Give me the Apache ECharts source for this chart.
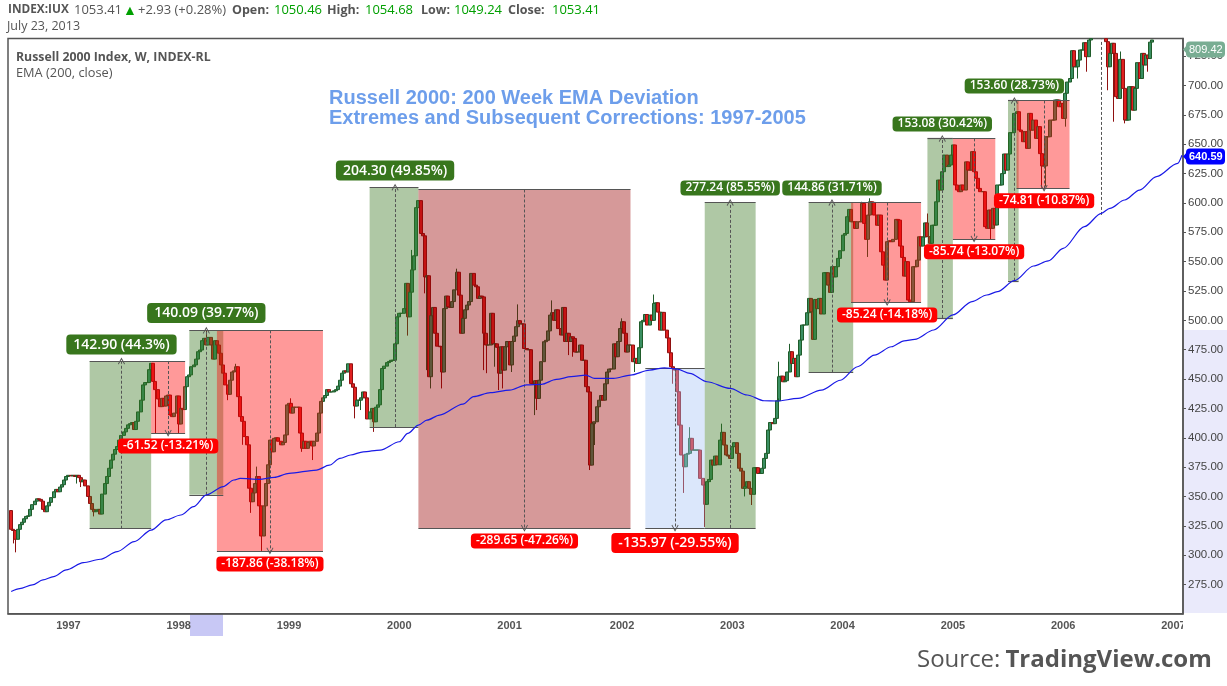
<!DOCTYPE html>
<html>
<head>
<meta charset="utf-8">
<title>Russell 2000 EMA Deviation</title>
<script src="https://cdn.jsdelivr.net/npm/echarts@6/dist/echarts.min.js"></script>
<style>
html, body { margin: 0; padding: 0; background: #fff; }
#chart { width: 1227px; height: 686px; }
</style>
</head>
<body>
<div id="chart"></div>
<script>
// weekly closes, week 1 onward (week 0 is an empty slot)
var firstOpen = 338;
var closes = [
    322,321,313.5,322,326,328,331,333,333.5,339,
    343,346,348,347.5,346,339,337,342,345,349,
    354,356,354,358,360,364,367,368,367.5,368,
    367,368,366,362.5,364,359,350,344,339,337,
    338,339,335,352,361,367,374,381,386,390,
    392.5,398,402,405,408,411,412,413,407,414,
    422,432,445,447,447,458,463.4,448,441,433,
    426.5,433.6,427,435.6,436.4,419.4,418,421,435.6,411.7,
    425,424,443.5,452,453.5,460.5,462,467,473.3,474.7,
    482.7,484.7,479,485.5,479,467,482.7,479,472,462,
    455,445,437,449,456,457,460.5,435,418,414,
    401,394,357,345.5,353,361,367,342,316.3,342,
    361,377,398,388,399.5,400,397,394,396,402.4,
    428,429.3,421,426,426,426,404,391,397,391,
    396,397,393,397,404,421,431,434,436,441,
    439,439,440,441,444,449,455,457,456,463,
    446,443,427,432,432,434,439,434,416,422,
    425,413.6,426,428,441,459,461,464,465,466,
    466,480,503,506,506,510,531.5,503,524,543,
    555,596,602,574,572,537,538,452,504,511,
    489,478,477.5,456,510,520.7,511.6,511,516,526,
    541,521.5,489,501.7,509,513,516,540,530,528.6,
    518.7,520.7,520,489,479,479,506,480,480,477,
    455,477.5,457.6,477.5,482,462,482,486.6,494.6,499.7,
    497,497,476,475,475,446.3,446,448.6,433.5,449,
    464.8,481.8,483,491,504.5,506.5,500,509,493,487.5,
    511,482,489,482,486,484.6,473,473,479,466,
    466,443.5,439,376.7,412,413.6,426.4,432,436,432,
    446,456,458.5,458.5,480,469,482,493,498.8,489,
    473,479,479,464.8,467.6,463.3,476.7,498.8,500,505,
    496,504.5,500,514.4,515,507,491.7,506.8,491.7,485,
    472.4,460.5,459,457.6,439.2,410.8,385.3,375.3,386,386.7,
    399.5,389.5,389.5,389.5,389.5,365.4,359.7,343.3,362.6,364.5,
    381,376.7,384.4,377,398,404.6,393.8,385.3,384.4,382.4,
    392.4,395.8,386.7,374,371.6,356.9,358.3,362.6,356.9,351.8,
    374.5,374.5,369.6,369.6,374,382.4,386.7,406.6,413,412,
    416.5,431.5,452,452.5,447.7,448.6,456,473.3,463.3,467.6,
    452,470.4,483.2,496,496,506.5,518.7,507.3,483.8,517.8,
    510,518.7,505.4,540.6,540.6,530,523.8,545.7,537,545.7,
    552.8,559.3,572.6,574,588.3,594.5,584,584,578.3,584,
    584,599.6,582.6,569,589.7,601,600.5,589.7,581,589.7,
    558.4,547,534.3,567,567.8,567,569,586,585.4,563.3,
    553.6,537.7,550,517.3,515.9,545.7,545.7,551.3,571.2,563.3,
    571,583,571.3,565.6,581,581,601,619.5,611,626.6,
    640.8,631,632.3,640.8,649.4,615.3,611,609.6,615.3,611,
    635,628,628,643.7,626.6,621,612.4,609.6,609.6,579.8,
    578.4,594,578.4,595.4,581.2,615.3,615.3,625,641.7,628,
    641.7,659.9,659.9,676.3,677.7,662.1,660.7,652.2,660.7,646.5,
    676.3,662,670.6,655,665,642,631.5,631.5,656.4,656.4,
    670.6,670.6,687.7,687.7,682,684.8,672,693.4,703,706,
    729.7,716,716,721.7,730.3,730.3,736.5,724.6,738.8,745,
    752,760,770,780,775,760,737.4,716,727.4,736,
    727.4,690.5,689,722.3,697.6,670.6,670.6,699,699,679,
    697.6,719.5,706,727.4,717.5,726,723,737,738.8
];

// long wicks only: [week, price]
var highWicks = [
    [93,491],[107,463],[117,375.4],[133,433.6],[190,560],[211,544],[240,513.6],[256,517],
    [289,501.7],[304,522],[321,409],[336,412],[363,464.8],[368,480],[402,601],[406,604],
    [433,591],[524,729]
];
var lowWicks = [
    [2,310],[3,302.4],[32,361],[34,358],[40,333],[69,404],[80,404],[103,432],[110,394],[114,336],
    [119,303.6],[123,381],[138,388],[143,381],[163,416.5],[166,423.6],[172,405],[188,487],[196,523],
    [197,457.6],[199,442],[204,442],[224,457.6],[225,455],[229,460.5],[231,440.6],[233,442],[237,456],
    [248,419.3],[249,423.6],[264,470.4],[266,469],[274,372.5],[276,393.8],[278,419],[295,456],
    [313,446],[318,353],[328,324],[331,362.6],[347,350],[350,342.7],[363,433.5],[405,554],
    [463,569],[487,613],[489,614],[498,665],[504,706],[508,711.8],[518,696],[521,669.2],[526,667.8],[537,711.8]
];

// EMA readings: [week, value]
var emaPoints = [
    [1,269],[5,271.5],[11,274.6],[16,278.9],[21,281.7],[27,287.4],[35,293.6],[43,296.5],[51,303],[59,311.5],
    [67,321.4],[74,330],[81,334.2],[87,341.3],[93,351.3],[101,358.4],[106,364],[109,365.4],[118,364.6],[125,366.3],
    [132,369.7],[145,372.5],[151,376.6],[156,382.4],[161,385.3],[167,388],[175,389.5],[184,396.6],[188,403.7],[193,410.8],
    [197,415],[203,419.3],[214,428.7],[219,435],[227,438.4],[236,440.6],[244,445],[251,445.5],[258,449.7],[265,452],
    [272,453.4],[276,450.6],[285,450.6],[293,453.4],[302,457.6],[309,459.6],[315,458.5],[321,454.8],[329,447.7],[340,442],
    [348,436.4],[356,431.5],[362,431.3],[372,433.5],[383,440.6],[392,449],[400,460.5],[408,470.4],[416,477.5],[422,482.6],
    [427,483.8],[436,491.8],[445,504.6],[454,516],[461,521.6],[466,524.4],[474,533.8],[483,546.3],[490,550.6],[497,561.3],
    [507,579.8],[515,591.2],[519,595.4],[526,602.5],[533,611],[541,622.4],[551,633.7],[553,640.6]
];

var weekCount = 554;
var yMin = 250, yMax = 740;
var yearTicks = ['1997-01-06','1998-01-05','1999-01-04','2000-01-03','2001-01-01','2002-01-07',
                 '2003-01-06','2004-01-05','2005-01-03','2006-01-02','2007-01-01'];

// [startWeek, endWeek, top, bottom, colour]
var GREEN = 'rgba(56,118,29,0.4)', RED = 'rgba(255,0,0,0.4)', DARKRED = 'rgba(153,0,0,0.4)', BLUE = 'rgba(164,194,244,0.4)';
var boxes = [
    [38,67,465.4,322.5,GREEN],
    [67,83,465.4,403.9,RED],
    [85,101,491.5,351.4,GREEN],
    [98,148,491.5,303.6,RED],
    [170,193,613.4,409.1,GREEN],
    [193,293,611.5,323,DARKRED],
    [300,328,459,323,BLUE],
    [328,352,600.4,323.2,GREEN],
    [377,398,600.4,455.5,GREEN],
    [397,430,600.4,515.2,RED],
    [433,445,655,502,GREEN],
    [445,465,655,569.3,RED],
    [471,476,687.3,533.7,GREEN],
    [475,500,687.3,612.5,RED]
];

// dashed measure line of each box: [week, from, to]
var measures = [
    [53,322.5,465.4],[75,465.4,403.9],[93,351.4,491.5],[123,491.5,303.6],[182,409.1,613.4],
    [243,611.5,323],[314,459,323],[340,323.2,600.4],[388,455.5,600.4],[414,600.4,515.2],
    [440,502,655],[455,655,569.3],[474,533.7,687.3],[488,687.3,612.5]
];

// [text, week, price, big?]
var gainTags = [
    ['142.90 (44.3%)',53,479.4,true],['140.09 (39.77%)',93,506.3,true],['204.30 (49.85%)',182,627.6,true],
    ['277.24 (85.55%)',340,612.7,false],['144.86 (31.71%)',388,612.7,false],
    ['153.08 (30.42%)',440,667.2,false],['153.60 (28.73%)',474,699.6,false]
];
var lossTags = [
    ['-61.52 (-13.21%)',75,393,false],['-187.86 (-38.18%)',123,292.5,false],['-289.65 (-47.26%)',243,312,false],
    ['-135.97 (-29.55%)',314,310.4,true],['-85.24 (-14.18%)',414,504.6,false],
    ['-85.74 (-13.07%)',455,558.5,false],['-74.81 (-10.87%)',488,601.9,false]
];

// header strip: [text, left, colour, weight, size]
var GREY = '#555', UP = '#00a000';
var headerBits = [
    ['INDEX:IUX',8,GREY,'bold',11.8],['1053.41',74,GREY,'normal',13],['▲',123,UP,'normal',14],
    ['+2.93 (+0.28%)',138,GREY,'normal',13],['Open:',232,GREY,'bold',12.5],['1050.46',274,UP,'normal',13],
    ['High:',327,GREY,'bold',12.5],['1054.68',365,UP,'normal',13],['Low:',421,GREY,'bold',12.5],
    ['1049.24',454,UP,'normal',13],['Close:',508,GREY,'bold',12.5],['1053.41',552,UP,'normal',13]
];

var SANS = '"Open Sans", sans-serif', ARIAL = '"Liberation Sans", Arial, sans-serif';
var CHEVRON = 'path://M0,0L5,8L4,8.8L0,2.4L-4,8.8L-5,8Z';

var categories = [];
for (var w = 0; w < weekCount; w++) {
    categories.push(new Date(Date.UTC(1996, 5, 24 + 7 * w)).toISOString().slice(0, 10));
}

function wickOf(list, week) {
    for (var k = 0; k < list.length; k++) {
        if (list[k][0] === week) return list[k][1];
    }
    return null;
}

// candlestick clip drops whole bars only, so bars leaving the top are cut here
var candles = ['-'];
closes.forEach(function (c, idx) {
    var week = idx + 1;
    var o = idx === 0 ? firstOpen : closes[idx - 1];
    if (Math.min(o, c) >= yMax) {
        candles.push('-');
        return;
    }
    var hi = wickOf(highWicks, week);
    var lo = wickOf(lowWicks, week);
    candles.push([
        Math.min(o, yMax),
        Math.min(c, yMax),
        lo === null ? Math.min(o, c) : lo,
        Math.min(hi === null ? Math.max(o, c) : hi, yMax)
    ]);
});

function tagPoint(tag, bg) {
    return {
        coord: [tag[1], tag[2]],
        label: {
            show: true,
            position: 'inside',
            formatter: tag[0],
            color: '#fff',
            fontFamily: SANS,
            fontWeight: 600,
            fontSize: tag[3] ? 14 : 12,
            backgroundColor: bg,
            borderRadius: 4,
            padding: tag[3] ? [3, 7, 3, 7] : [2, 5, 1, 5]
        }
    };
}

var markLineData = [];
boxes.forEach(function (b) {
    var solid = { type: 'solid', color: '#555', width: 1.2 };
    markLineData.push([{ coord: [b[0], b[2]], lineStyle: solid, symbol: 'none' }, { coord: [b[1], b[2]], symbol: 'none' }]);
    markLineData.push([{ coord: [b[0], b[3]], lineStyle: solid, symbol: 'none' }, { coord: [b[1], b[3]], symbol: 'none' }]);
});
measures.forEach(function (m) {
    markLineData.push([{ coord: [m[0], m[1]] }, { coord: [m[0], m[2]] }]);
});
markLineData.push([{ coord: [515, 589.8], symbol: 'none' }, { coord: [515, 739], symbol: 'none' }]);

var titles = headerBits.map(function (h) {
    return {
        left: h[1], top: 4, padding: 0, text: h[0],
        textStyle: { fontFamily: SANS, color: h[2], fontWeight: h[3], fontSize: h[4] }
    };
});
titles.push(
    { left: 7, top: 20, padding: 0, text: 'July 23, 2013', textStyle: { fontFamily: SANS, fontSize: 12.5, fontWeight: 'normal', color: GREY } },
    { left: 16, top: 51, padding: 0, text: 'Russell 2000 Index, W, INDEX-RL', textStyle: { fontFamily: SANS, fontSize: 12.3, fontWeight: 'bold', color: GREY } },
    { left: 16, top: 67, padding: 0, text: 'EMA (200, close)', textStyle: { fontFamily: SANS, fontSize: 12.8, fontWeight: 'normal', color: GREY } },
    { left: 329, top: 88, padding: 0, text: 'Russell 2000: 200 Week EMA Deviation', textStyle: { fontFamily: ARIAL, fontSize: 20, fontWeight: 'bold', color: '#6d9eeb' } },
    { left: 329, top: 108, padding: 0, text: 'Extremes and Subsequent Corrections: 1997-2005', textStyle: { fontFamily: ARIAL, fontSize: 20, fontWeight: 'bold', color: '#6d9eeb' } },
    {
        left: 917, top: 648, padding: 0,
        text: '{n|Source:} {b|TradingView.com}',
        textStyle: {
            rich: {
                n: { fontFamily: SANS, fontSize: 24, fontWeight: 'normal', color: GREY },
                b: { fontFamily: SANS, fontSize: 24, fontWeight: 'bold', color: GREY }
            }
        }
    }
);

var chart = echarts.init(document.getElementById('chart'), null, { renderer: 'canvas' });

chart.setOption({
    animation: false,
    title: titles,
    grid: {
        left: 8, right: 44, top: 38.6, bottom: 72.15,
        show: true, borderColor: GREY, borderWidth: 1.5, backgroundColor: 'transparent'
    },
    xAxis: {
        type: 'category',
        data: categories,
        boundaryGap: true,
        axisLine: { lineStyle: { color: GREY, width: 1.5 } },
        axisTick: {
            length: 3,
            lineStyle: { color: GREY },
            alignWithLabel: true,
            interval: function (i, v) { return yearTicks.indexOf(v) >= 0; }
        },
        axisLabel: {
            interval: function (i, v) { return yearTicks.indexOf(v) >= 0; },
            formatter: function (v) { return v.slice(0, 4); },
            fontFamily: ARIAL, fontWeight: 'bold', fontSize: 11, color: GREY, margin: 7
        },
        splitLine: { show: false }
    },
    yAxis: {
        type: 'value',
        position: 'right',
        min: yMin,
        max: yMax,
        interval: 25,
        axisLine: { show: true, lineStyle: { color: GREY, width: 1.5 } },
        axisTick: { show: true, length: 3, lineStyle: { color: GREY } },
        axisLabel: {
            showMinLabel: false,
            showMaxLabel: false,
            formatter: function (v) { return v.toFixed(2); },
            fontFamily: ARIAL, fontSize: 11.5, color: '#444', margin: 5
        },
        splitLine: { show: false }
    },
    series: [
        {
            name: 'Russell 2000',
            type: 'candlestick',
            z: 2,
            barWidth: 3.5,
            data: candles,
            itemStyle: {
                color: '#3a8f62', borderColor: '#1f5c2a',
                color0: '#e02020', borderColor0: '#8f1010',
                borderWidth: 1
            }
        },
        {
            name: 'Annotations',
            type: 'line',
            z: 3,
            data: [],
            silent: true,
            markArea: {
                z: 3,
                silent: true,
                data: boxes.map(function (b) {
                    return [
                        { xAxis: b[0], yAxis: b[2], itemStyle: { color: b[4] } },
                        { xAxis: b[1], yAxis: b[3] }
                    ];
                })
            },
            markLine: {
                z: 5,
                silent: true,
                animation: false,
                symbol: ['none', CHEVRON],
                symbolSize: 7,
                label: { show: false },
                lineStyle: { type: [3, 2], color: '#555', width: 1 },
                data: markLineData
            },
            markPoint: {
                z: 7,
                silent: true,
                symbol: 'rect',
                symbolSize: 0,
                data: gainTags.map(function (t) { return tagPoint(t, '#38761d'); })
                    .concat(lossTags.map(function (t) { return tagPoint(t, '#ff0000'); }))
            }
        },
        {
            name: 'EMA (200, close)',
            type: 'line',
            z: 6,
            data: emaPoints,
            showSymbol: false,
            smooth: 0.3,
            smoothMonotone: 'x',
            lineStyle: { color: '#1a1ae6', width: 1.2 }
        }
    ],
    graphic: [
        { type: 'rect', z: -1, shape: { x: 1184, y: 330, width: 43, height: 283 }, style: { fill: '#eaeafb' } },
        { type: 'rect', z: -1, shape: { x: 190, y: 614, width: 33, height: 22 }, style: { fill: '#c8c8f5' } },
        { type: 'rect', z: 50, shape: { x: 1183, y: 618, width: 12, height: 18 }, style: { fill: '#fff' } },
        { type: 'polygon', z: 50, shape: { points: [[1183, 49.5], [1188, 44], [1188, 55]] }, style: { fill: '#79ad93' } },
        { type: 'rect', z: 50, shape: { x: 1186, y: 41.5, width: 39, height: 16, r: 4 }, style: { fill: '#79ad93' } },
        { type: 'text', z: 51, x: 1189, y: 44, style: { text: '809.42', fill: '#fff', font: '11px ' + ARIAL } },
        { type: 'polygon', z: 50, shape: { points: [[1183, 156.5], [1188, 151], [1188, 162]] }, style: { fill: '#0000ff' } },
        { type: 'rect', z: 50, shape: { x: 1186, y: 148.5, width: 39, height: 16, r: 4 }, style: { fill: '#0000ff' } },
        { type: 'text', z: 51, x: 1189, y: 151, style: { text: '640.59', fill: '#fff', font: 'bold 11px ' + ARIAL } }
    ]
});

window.addEventListener('resize', chart.resize);
</script>
</body>
</html>
